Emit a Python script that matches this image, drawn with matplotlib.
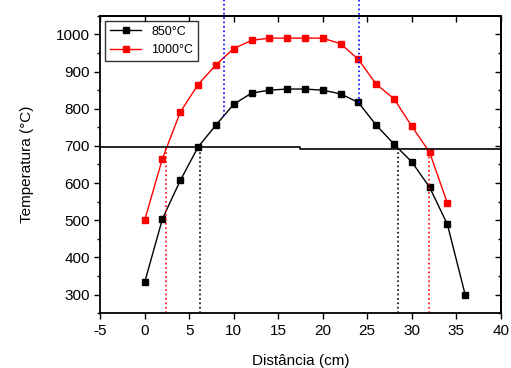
import matplotlib
matplotlib.use("Agg")
import matplotlib.pyplot as plt
from matplotlib.ticker import MultipleLocator, NullFormatter

plt.rcParams["font.family"] = ["Liberation Sans", "DejaVu Sans"]
plt.rcParams["axes.unicode_minus"] = False

# perfis de temperatura ao longo do forno
dist_850 = [0, 2, 4, 6, 8, 10, 12, 14, 16, 18, 20, 22, 24, 26, 28, 30, 32, 34, 36]
temp_850 = [333, 504, 607, 697, 756, 812, 842, 850, 853, 853, 850, 840, 817, 756, 705, 657, 589, 489, 300]

dist_1000 = [0, 2, 4, 6, 8, 10, 12, 14, 16, 18, 20, 22, 24, 26, 28, 30, 32, 34]
temp_1000 = [500, 666, 791, 865, 918, 962, 984, 990, 990, 990, 990, 975, 933, 866, 827, 753, 683, 546]

# linha de referência (~700 °C) e limites da zona isotérmica
ref_x = [-5, 17.5, 17.5, 40]
ref_y = [697, 697, 691, 691]
black_marks = [(6.2, 697), (28.5, 691)]
red_marks = [(2.35, 697), (31.95, 691)]
blue_marks = [(8.9, 780), (24.1, 815)]

fig = plt.figure(figsize=(5.11, 3.68), dpi=100)
ax = fig.add_axes([0.196, 0.149, 0.784, 0.808])

ax.plot(dist_850, temp_850, "-s", color="black", lw=1, ms=4.5, label="850°C")
ax.plot(dist_1000, temp_1000, "-s", color="red", lw=1, ms=4.5, label="1000°C")

ax.plot(ref_x, ref_y, color="black", lw=1.2)
for x, y in black_marks:
    ax.plot([x, x], [250, y], ls=":", color="black", lw=1.2)
for x, y in red_marks:
    ax.plot([x, x], [250, y], ls=":", color="red", lw=1.2)
for x, y in blue_marks:
    ax.plot([x, x], [y, 1092], ls=":", color="blue", lw=1.2, clip_on=False)

ax.set_xlim(-5, 40)
ax.set_ylim(250, 1050)
ax.xaxis.set_major_locator(MultipleLocator(5))
ax.yaxis.set_major_locator(MultipleLocator(100))
ax.yaxis.set_minor_locator(MultipleLocator(50))
ax.tick_params(axis="both", which="major", labelsize=11, length=4, width=1, direction="out")
ax.tick_params(axis="y", which="minor", length=2.5, width=1, direction="out")
for sp in ax.spines.values():
    sp.set_linewidth(1.3)

# eixos de cima e da direita só com marcas para dentro
top = ax.secondary_xaxis("top")
top.xaxis.set_major_locator(MultipleLocator(5))
top.xaxis.set_major_formatter(NullFormatter())
top.tick_params(direction="in", length=4, width=1)
right = ax.secondary_yaxis("right")
right.yaxis.set_major_locator(MultipleLocator(100))
right.yaxis.set_minor_locator(MultipleLocator(50))
right.yaxis.set_major_formatter(NullFormatter())
right.tick_params(which="major", direction="in", length=4, width=1)
right.tick_params(which="minor", direction="in", length=2.5, width=1)
for sec in (top, right):
    for sp in sec.spines.values():
        sp.set_linewidth(1.3)

ax.set_xlabel("Distância (cm)", fontsize=11, labelpad=12)
ax.set_ylabel("Temperatura (°C)", fontsize=11, labelpad=16)

leg = ax.legend(loc="upper left", fontsize=9, frameon=True, fancybox=False,
                edgecolor="black", borderaxespad=0.4, handlelength=2.5)
leg.get_frame().set_linewidth(1)

fig.savefig("out.png", dpi=100)
